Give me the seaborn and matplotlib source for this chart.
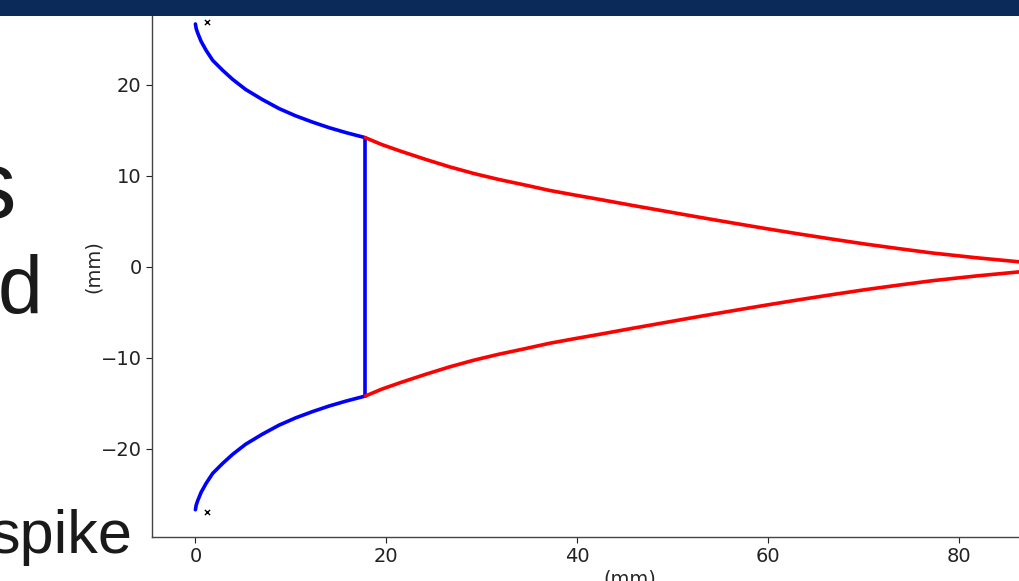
import matplotlib
matplotlib.use("Agg")
import matplotlib.pyplot as plt
import seaborn as sns
import pandas as pd
from matplotlib.patches import Rectangle

# ---- data (mm) ----
blue_upper_x = [0.0, 0.08, 0.24, 0.59, 1.12, 1.81, 2.86, 3.91, 5.26, 7.0, 8.76,
                10.5, 12.3, 14.0, 15.8, 17.8]
blue_upper_y = [26.7, 26.2, 25.7, 24.8, 23.8, 22.7, 21.6, 20.6, 19.5, 18.4, 17.4,
                16.6, 15.9, 15.3, 14.75, 14.2]
blue_lower_x = [0.0, 0.08, 0.24, 0.59, 1.12, 1.81, 2.86, 3.91, 5.26, 7.0, 8.76,
                10.5, 12.3, 14.0, 15.8, 17.8]
blue_lower_y = [-26.7, -26.2, -25.7, -24.8, -23.8, -22.7, -21.6, -20.6, -19.5, -18.4, -17.4,
                -16.6, -15.9, -15.3, -14.75, -14.2]
throat_x = [17.8, 17.8]
throat_y = [14.2, -14.2]
red_upper_x = [17.8, 19.5, 21.4, 24.0, 26.6, 29.2, 31.8, 34.5, 37.1, 39.7, 42.3, 45.8,
               49.3, 52.8, 56.3, 59.8, 63.2, 66.7, 70.2, 73.7, 77.2, 81.8, 86.3, 91.0]
red_upper_y = [14.2, 13.45, 12.75, 11.85, 11.0, 10.25, 9.6, 9.0, 8.4, 7.9, 7.42, 6.75,
               6.1, 5.45, 4.82, 4.2, 3.62, 3.05, 2.5, 2.0, 1.52, 1.0, 0.55, 0.0]
red_lower_x = [17.8, 19.5, 21.4, 24.0, 26.6, 29.2, 31.8, 34.5, 37.1, 39.7, 42.3, 45.8,
               49.3, 52.8, 56.3, 59.8, 63.2, 66.7, 70.2, 73.7, 77.2, 81.8, 86.3, 91.0]
red_lower_y = [-14.2, -13.45, -12.75, -11.85, -11.0, -10.25, -9.6, -9.0, -8.4, -7.9, -7.42, -6.75,
               -6.1, -5.45, -4.82, -4.2, -3.62, -3.05, -2.5, -2.0, -1.52, -1.0, -0.55, 0.0]
marker_x = [1.2, 1.2]
marker_y = [26.9, -26.9]
x_ticks = [0, 20, 40, 60, 80]
y_ticks = [-20, -10, 0, 10, 20]

sns.set_style("ticks")
plt.rcParams["font.family"] = ["DejaVu Sans"]

fig = plt.figure(figsize=(10.2, 5.81), dpi=100)
ax = fig.add_axes([0.149, 0.0757, 0.937, 0.930])

def seg(x, y, color):
    df = pd.DataFrame({"x": x, "y": y})
    sns.lineplot(data=df, x="x", y="y", sort=False, estimator=None,
                 color=color, linewidth=2.6, ax=ax)

seg(blue_upper_x, blue_upper_y, "#0000ff")
seg(blue_lower_x, blue_lower_y, "#0000ff")
seg(throat_x, throat_y, "#0000ff")
seg(red_upper_x, red_upper_y, "#ff0000")
seg(red_lower_x, red_lower_y, "#ff0000")
sns.scatterplot(x=marker_x, y=marker_y, marker="x", color="black", s=14,
                linewidth=1.0, ax=ax)

ax.set_xlim(-4.55, 95.55)
ax.set_ylim(-29.7, 29.7)
ax.set_xticks(x_ticks)
ax.set_yticks(y_ticks)
ax.tick_params(labelsize=14, colors="#222222", length=4)
ax.set_xlabel("(mm)", fontsize=14, labelpad=2)
ax.set_ylabel("(mm)", fontsize=14, labelpad=-2)
for s in ax.spines.values():
    s.set_color("#444444")
    s.set_linewidth(1.0)

# slide decorations
fig.patches.append(Rectangle((0, 1 - 16 / 581), 1, 16 / 581, transform=fig.transFigure,
                             facecolor="#0b2a5a", edgecolor="none", zorder=10))
slide_font = ["Liberation Sans", "DejaVu Sans"]
fig.text(16 / 1020, 1 - 218 / 581, "s", fontsize=70, ha="right", va="baseline",
         color="#1a1a1a", family=slide_font)
fig.text(42 / 1020, 1 - 313 / 581, "d", fontsize=58, ha="right", va="baseline",
         color="#1a1a1a", family=slide_font)
fig.text(132 / 1020, 1 - 553 / 581, "spike", fontsize=44, ha="right", va="baseline",
         color="#1a1a1a", family=slide_font)

fig.savefig("out.png", dpi=100)
